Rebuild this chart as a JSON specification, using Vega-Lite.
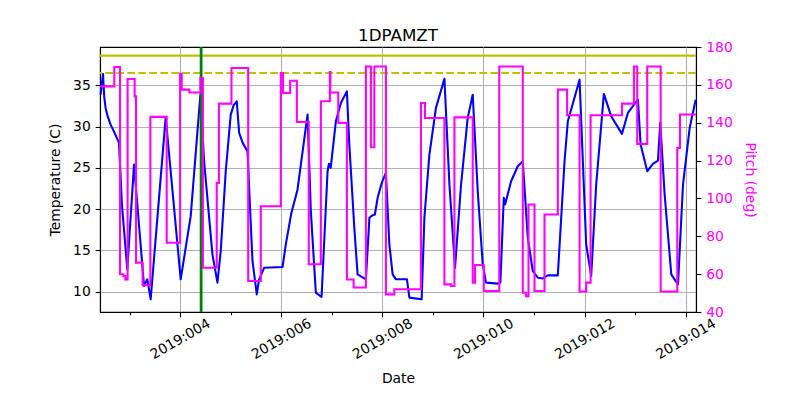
{
  "$schema": "https://vega.github.io/schema/vega-lite/v6.json",
  "width": 596,
  "height": 265,
  "autosize": {"type": "none"},
  "padding": {"left": 100, "top": 47, "right": 104, "bottom": 88},
  "background": "white",
  "title": {"text": "1DPAMZT", "fontSize": 16.7, "fontWeight": "normal", "font": "DejaVu Sans", "color": "black", "offset": -5},
  "datasets": {
    "temp": [
      {"day": 2.428, "temp": 33.87}, {"day": 2.475, "temp": 36.38}, {"day": 2.5, "temp": 33.6}, {"day": 2.527, "temp": 32.27},
      {"day": 2.57, "temp": 31.2}, {"day": 2.626, "temp": 30.24}, {"day": 2.7, "temp": 29.3},
      {"day": 2.792, "temp": 28.03}, {"day": 2.85, "temp": 20.5}, {"day": 2.956, "temp": 12.7}, {"day": 3.089, "temp": 25.4}, {"day": 3.287, "temp": 10.68},
      {"day": 3.352, "temp": 11.49}, {"day": 3.418, "temp": 9.07}, {"day": 3.715, "temp": 31.13}, {"day": 4.012, "temp": 11.49},
      {"day": 4.21, "temp": 19.15}, {"day": 4.402, "temp": 33.9}, {"day": 4.475, "temp": 25.8}, {"day": 4.64, "temp": 14.51},
      {"day": 4.739, "temp": 11.09}, {"day": 4.804, "temp": 14.91}, {"day": 4.903, "temp": 24.59}, {"day": 5.002, "temp": 31.45},
      {"day": 5.06, "temp": 32.6}, {"day": 5.121, "temp": 33.06}, {"day": 5.168, "temp": 29.24}, {"day": 5.24, "temp": 28.0}, {"day": 5.333, "temp": 27.01}, {"day": 5.432, "temp": 13.7},
      {"day": 5.517, "temp": 9.67}, {"day": 5.56, "temp": 11.4}, {"day": 5.663, "temp": 12.9}, {"day": 6.026, "temp": 12.98}, {"day": 6.091, "temp": 15.72},
      {"day": 6.2, "temp": 19.5}, {"day": 6.323, "temp": 22.38}, {"day": 6.521, "temp": 31.45}, {"day": 6.586, "temp": 19.75}, {"day": 6.685, "temp": 9.88},
      {"day": 6.798, "temp": 9.35}, {"day": 6.917, "temp": 24.59}, {"day": 6.944, "temp": 25.5}, {"day": 6.979, "temp": 25.0},
      {"day": 7.081, "temp": 30.64}, {"day": 7.18, "temp": 32.87}, {"day": 7.299, "temp": 34.27}, {"day": 7.347, "temp": 27.82},
      {"day": 7.446, "temp": 17.74}, {"day": 7.511, "temp": 12.09}, {"day": 7.675, "temp": 11.49}, {"day": 7.745, "temp": 18.95},
      {"day": 7.79, "temp": 19.2}, {"day": 7.853, "temp": 19.35}, {"day": 7.907, "temp": 21.37}, {"day": 7.99, "temp": 23.2}, {"day": 8.071, "temp": 24.4},
      {"day": 8.139, "temp": 15.72}, {"day": 8.204, "temp": 12.09}, {"day": 8.269, "temp": 11.49}, {"day": 8.487, "temp": 11.49},
      {"day": 8.535, "temp": 9.27}, {"day": 8.778, "temp": 9.07}, {"day": 8.832, "temp": 18.95}, {"day": 8.931, "temp": 26.61},
      {"day": 9.061, "temp": 32.27}, {"day": 9.228, "temp": 35.81}, {"day": 9.327, "temp": 22.98}, {"day": 9.438, "temp": 12.9},
      {"day": 9.557, "temp": 22.98}, {"day": 9.689, "temp": 31.06}, {"day": 9.788, "temp": 33.87}, {"day": 9.887, "temp": 22.17},
      {"day": 9.986, "temp": 13.3}, {"day": 10.051, "temp": 11.09}, {"day": 10.283, "temp": 10.97}, {"day": 10.335, "temp": 11.1},
      {"day": 10.402, "temp": 21.37}, {"day": 10.428, "temp": 20.56}, {"day": 10.547, "temp": 23.38}, {"day": 10.679, "temp": 25.2},
      {"day": 10.778, "temp": 25.8}, {"day": 10.877, "temp": 16.53}, {"day": 10.976, "temp": 12.49}, {"day": 11.075, "temp": 11.69},
      {"day": 11.174, "temp": 11.6}, {"day": 11.273, "temp": 11.97}, {"day": 11.471, "temp": 11.97}, {"day": 11.604, "temp": 25.8},
      {"day": 11.669, "temp": 30.64}, {"day": 11.901, "temp": 35.69}, {"day": 12.032, "temp": 15.72}, {"day": 12.131, "temp": 11.89},
      {"day": 12.23, "temp": 22.98}, {"day": 12.382, "temp": 33.96}, {"day": 12.527, "temp": 31.25}, {"day": 12.739, "temp": 29.12},
      {"day": 12.857, "temp": 31.66}, {"day": 12.99, "temp": 32.75}, {"day": 13.055, "temp": 33.27}, {"day": 13.109, "temp": 27.82},
      {"day": 13.24, "temp": 24.59}, {"day": 13.352, "temp": 25.49}, {"day": 13.451, "temp": 25.89}, {"day": 13.497, "temp": 30.45},
      {"day": 13.584, "temp": 21.77}, {"day": 13.715, "temp": 12.09}, {"day": 13.794, "temp": 11.37}, {"day": 13.848, "temp": 10.88},
      {"day": 13.947, "temp": 22.98}, {"day": 14.079, "temp": 29.85}, {"day": 14.198, "temp": 33.27}
    ],
    "pitch": [
      {"day": 2.422, "pitch": 159.2}, {"day": 2.699, "pitch": 169.4}, {"day": 2.812, "pitch": 59.9}, {"day": 2.877, "pitch": 59.0},
      {"day": 2.917, "pitch": 57.2}, {"day": 2.962, "pitch": 163.1}, {"day": 3.101, "pitch": 153.9}, {"day": 3.129, "pitch": 66.1},
      {"day": 3.259, "pitch": 54.1}, {"day": 3.412, "pitch": 143.1}, {"day": 3.735, "pitch": 76.6}, {"day": 4.0, "pitch": 165.9},
      {"day": 4.032, "pitch": 157.5}, {"day": 4.184, "pitch": 156.0}, {"day": 4.402, "pitch": 163.6}, {"day": 4.451, "pitch": 63.4},
      {"day": 4.725, "pitch": 108.2}, {"day": 4.768, "pitch": 150.1}, {"day": 5.016, "pitch": 168.9}, {"day": 5.347, "pitch": 56.4},
      {"day": 5.596, "pitch": 95.9}, {"day": 5.992, "pitch": 166.3}, {"day": 6.036, "pitch": 155.7}, {"day": 6.178, "pitch": 162.2},
      {"day": 6.309, "pitch": 140.4}, {"day": 6.545, "pitch": 65.2}, {"day": 6.784, "pitch": 151.3}, {"day": 6.962, "pitch": 166.8},
      {"day": 6.972, "pitch": 156.0}, {"day": 7.129, "pitch": 139.9}, {"day": 7.299, "pitch": 57.2}, {"day": 7.432, "pitch": 52.9},
      {"day": 7.675, "pitch": 169.7}, {"day": 7.774, "pitch": 127.0}, {"day": 7.842, "pitch": 169.7}, {"day": 8.071, "pitch": 49.3},
      {"day": 8.238, "pitch": 52.0}, {"day": 8.764, "pitch": 150.4}, {"day": 8.844, "pitch": 142.5}, {"day": 9.228, "pitch": 54.6},
      {"day": 9.358, "pitch": 53.7}, {"day": 9.426, "pitch": 142.8}, {"day": 9.788, "pitch": 55.5}, {"day": 9.834, "pitch": 64.8},
      {"day": 10.006, "pitch": 51.1}, {"day": 10.313, "pitch": 169.7}, {"day": 10.778, "pitch": 50.2}, {"day": 10.843, "pitch": 48.4},
      {"day": 10.891, "pitch": 96.8}, {"day": 11.01, "pitch": 51.1}, {"day": 11.208, "pitch": 91.5}, {"day": 11.471, "pitch": 157.5},
      {"day": 11.655, "pitch": 143.9}, {"day": 11.901, "pitch": 50.8}, {"day": 12.032, "pitch": 55.5}, {"day": 12.119, "pitch": 143.9},
      {"day": 12.739, "pitch": 150.1}, {"day": 12.976, "pitch": 169.7}, {"day": 13.042, "pitch": 128.8}, {"day": 13.24, "pitch": 169.7},
      {"day": 13.505, "pitch": 50.8}, {"day": 13.834, "pitch": 126.7}, {"day": 13.887, "pitch": 144.3}, {"day": 14.204, "pitch": 144.3}
    ],
    "limits": [
      {"limit": 38.6, "kind": "yellow"},
      {"limit": 36.5, "kind": "planning"}
    ],
    "marker": [
      {"day": 4.416}
    ]
  },
  "layer": [
    {
      "layer": [
        {
          "data": {"name": "temp"},
          "mark": {"type": "line", "color": "#0000ff", "strokeWidth": 2.08, "strokeJoin": "round"},
          "encoding": {
            "x": {
              "field": "day", "type": "quantitative",
              "scale": {"domain": [2.416, 14.204], "nice": false, "zero": false},
              "axis": {
                "values": [3, 4, 5, 6, 7, 8, 9, 10, 11, 12, 13, 14],
                "labelExpr": "datum.value % 2 == 0 ? '2019:0' + (datum.value < 10 ? '0' : '') + datum.value : ''",
                "labelAngle": -30,
                "labelAlign": "center",
                "labelBaseline": "middle",
                "labelPadding": 22,
                "labelOverlap": false,
                "labelFlush": false,
                "tickSize": {"condition": {"test": "datum.value % 2 == 0", "value": 4.86}, "value": 2.78},
                "gridOpacity": {"condition": {"test": "datum.value % 2 == 0", "value": 1}, "value": 0},
                "title": "Date",
                "titlePadding": 10
              }
            },
            "y": {
              "field": "temp", "type": "quantitative",
              "scale": {"domain": [7.53, 39.65], "nice": false, "zero": false},
              "axis": {
                "values": [10, 15, 20, 25, 30, 35],
                "title": "Temperature (C)",
                "titlePadding": 10
              }
            }
          }
        },
        {
          "data": {"name": "limits"},
          "mark": {"type": "rule", "color": "#bfbf00", "strokeWidth": 2.08},
          "encoding": {
            "y": {"field": "limit", "type": "quantitative"},
            "strokeDash": {
              "field": "kind", "type": "nominal",
              "scale": {"domain": ["yellow", "planning"], "range": [[1, 0], [7.7, 3.3]]},
              "legend": null
            }
          }
        },
        {
          "data": {"name": "marker"},
          "mark": {"type": "rule", "color": "#008000", "strokeWidth": 2.8},
          "encoding": {
            "x": {"field": "day", "type": "quantitative"}
          }
        }
      ]
    },
    {
      "data": {"name": "pitch"},
      "mark": {"type": "line", "color": "#ff00ff", "strokeWidth": 2.08, "interpolate": "step-after"},
      "encoding": {
        "x": {"field": "day", "type": "quantitative"},
        "y": {
          "field": "pitch", "type": "quantitative",
          "scale": {"domain": [40, 180], "nice": false, "zero": false},
          "axis": {
            "orient": "right",
            "values": [40, 60, 80, 100, 120, 140, 160, 180],
            "grid": false,
            "labelColor": "#ff00ff",
            "titleColor": "#ff00ff",
            "title": "Pitch (deg)",
            "titlePadding": 10
          }
        }
      }
    }
  ],
  "resolve": {"scale": {"y": "independent"}},
  "config": {
    "font": "DejaVu Sans",
    "view": {"stroke": "black", "strokeWidth": 1.1},
    "axis": {
      "domainColor": "black",
      "domainWidth": 1.1,
      "tickColor": "black",
      "tickWidth": 1.1,
      "tickSize": 4.86,
      "labelFont": "DejaVu Sans",
      "labelFontSize": 13.9,
      "labelColor": "black",
      "labelPadding": 4.86,
      "titleFont": "DejaVu Sans",
      "titleFontSize": 13.9,
      "titleFontWeight": "normal",
      "titleColor": "black",
      "grid": true,
      "gridColor": "#b0b0b0",
      "gridWidth": 1.1
    }
  }
}
